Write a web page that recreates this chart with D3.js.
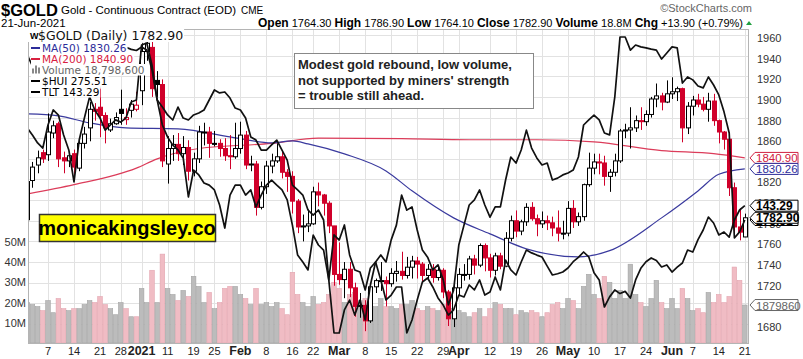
<!DOCTYPE html>
<html><head><meta charset="utf-8">
<script src="https://cdn.jsdelivr.net/npm/d3@7"></script>
<style>body{margin:0;background:#fff}svg{display:block}text{font-family:Arial,"Liberation Sans",sans-serif}</style>
</head><body><svg id="c" width="803" height="359"></svg>
<script>
const dates = [
"2020-12-01","2020-12-02","2020-12-03","2020-12-04","2020-12-07","2020-12-08","2020-12-09","2020-12-10","2020-12-11","2020-12-14","2020-12-15","2020-12-16","2020-12-17","2020-12-18","2020-12-21","2020-12-22","2020-12-23","2020-12-24","2020-12-28","2020-12-29","2020-12-30","2020-12-31",
"2021-01-04","2021-01-05","2021-01-06","2021-01-07","2021-01-08","2021-01-11","2021-01-12","2021-01-13","2021-01-14","2021-01-15","2021-01-19","2021-01-20","2021-01-21","2021-01-22","2021-01-25","2021-01-26","2021-01-27","2021-01-28","2021-01-29",
"2021-02-01","2021-02-02","2021-02-03","2021-02-04","2021-02-05","2021-02-08","2021-02-09","2021-02-10","2021-02-11","2021-02-12","2021-02-16","2021-02-17","2021-02-18","2021-02-19","2021-02-22","2021-02-23","2021-02-24","2021-02-25","2021-02-26",
"2021-03-01","2021-03-02","2021-03-03","2021-03-04","2021-03-05","2021-03-08","2021-03-09","2021-03-10","2021-03-11","2021-03-12","2021-03-15","2021-03-16","2021-03-17","2021-03-18","2021-03-19","2021-03-22","2021-03-23","2021-03-24","2021-03-25","2021-03-26","2021-03-29","2021-03-30","2021-03-31",
"2021-04-01","2021-04-05","2021-04-06","2021-04-07","2021-04-08","2021-04-09","2021-04-12","2021-04-13","2021-04-14","2021-04-15","2021-04-16","2021-04-19","2021-04-20","2021-04-21","2021-04-22","2021-04-23","2021-04-26","2021-04-27","2021-04-28","2021-04-29","2021-04-30",
"2021-05-03","2021-05-04","2021-05-05","2021-05-06","2021-05-07","2021-05-10","2021-05-11","2021-05-12","2021-05-13","2021-05-14","2021-05-17","2021-05-18","2021-05-19","2021-05-20","2021-05-21","2021-05-24","2021-05-25","2021-05-26","2021-05-27","2021-05-28",
"2021-06-01","2021-06-02","2021-06-03","2021-06-04","2021-06-07","2021-06-08","2021-06-09","2021-06-10","2021-06-11","2021-06-14","2021-06-15","2021-06-16","2021-06-17","2021-06-18","2021-06-21"];

const close = [1818,1832,1841,1840,1866,1872,1840,1838,1843,1832,1855,1864,1888,1886,1882,1870,1874,1880,1884,1880,1893,1892,
1944,1952,1908,1912,1838,1850,1854,1845,1851,1828,1840,1866,1866,1855,1855,1850,1843,1842,1850,
1863,1834,1835,1793,1813,1833,1838,1842,1827,1823,1799,1774,1775,1777,1808,1805,1797,1775,1728,
1723,1733,1715,1697,1698,1683,1716,1722,1722,1719,1729,1731,1727,1735,1741,1738,1727,1733,1725,1732,1711,1685,1715,
1728,1728,1743,1737,1756,1744,1732,1746,1736,1763,1780,1770,1779,1793,1782,1777,1780,1778,1773,1768,1768,
1792,1779,1784,1815,1831,1837,1836,1823,1827,1838,1867,1868,1870,1877,1876,1883,1898,1901,1895,1903,
1905,1908,1870,1891,1897,1893,1888,1896,1877,1866,1859,1812,1774,1769,1782.9];
const open = [1781,1819,1834,1846,1844,1865,1874,1841,1838,1845,1831,1855,1870,1888,1890,1882,1868,1874,1888,1878,1887,1888,
1906,1944,1948,1916,1912,1835,1850,1854,1845,1851,1828,1840,1866,1866,1855,1855,1850,1843,1842,
1850,1863,1834,1835,1793,1813,1833,1838,1842,1827,1823,1799,1774,1775,1777,1808,1805,1797,1775,
1728,1723,1733,1715,1697,1698,1683,1716,1722,1722,1719,1729,1731,1727,1735,1741,1738,1727,1733,1725,1732,1711,1685,
1715,1728,1728,1743,1737,1756,1744,1732,1746,1736,1763,1780,1770,1779,1793,1782,1777,1780,1778,1773,1768,
1768,1792,1779,1784,1815,1831,1837,1836,1823,1827,1838,1867,1868,1870,1877,1876,1883,1898,1901,1895,
1903,1905,1908,1870,1891,1897,1893,1888,1896,1877,1866,1859,1812,1774,1764.3];
const high = [1820,1837,1848,1849,1884,1877,1876,1847,1847,1849,1858,1871,1895,1894,1908,1885,1879,1885,1907,1889,1897,1905,
1952,1957,1960,1925,1917,1862,1863,1865,1862,1858,1846,1872,1875,1871,1867,1859,1860,1863,1875,
1876,1867,1843,1838,1818,1838,1845,1855,1848,1830,1828,1801,1786,1791,1813,1817,1806,1799,1775,
1759,1740,1740,1720,1710,1703,1719,1724,1740,1726,1734,1741,1750,1745,1746,1745,1740,1738,1738,1736,1734,1713,1718,
1734,1738,1746,1747,1758,1758,1748,1749,1749,1769,1785,1790,1781,1797,1798,1786,1789,1785,1784,1790,1780,
1799,1800,1788,1816,1846,1845,1845,1843,1830,1845,1869,1874,1890,1882,1890,1887,1900,1913,1904,1916,
1919,1910,1909,1895,1901,1903,1900,1904,1903,1878,1867,1866,1817,1792,1786.9];
const low = [1777,1812,1826,1836,1838,1860,1832,1826,1832,1822,1828,1850,1857,1877,1861,1855,1866,1873,1873,1873,1880,1886,
1892,1935,1900,1900,1832,1816,1838,1838,1834,1819,1823,1836,1853,1841,1852,1842,1838,1830,1840,
1845,1830,1828,1785,1791,1806,1826,1836,1821,1808,1787,1768,1760,1769,1776,1794,1785,1768,1717,
1718,1705,1706,1687,1686,1673,1681,1710,1712,1697,1716,1721,1723,1724,1724,1724,1720,1723,1720,1722,1705,1678,1677,
1707,1722,1723,1728,1735,1731,1725,1727,1733,1735,1760,1764,1766,1775,1780,1765,1773,1771,1765,1760,1762,
1765,1773,1775,1780,1813,1825,1825,1814,1808,1823,1836,1860,1850,1866,1868,1872,1880,1890,1887,1894,
1898,1896,1856,1864,1882,1890,1886,1876,1872,1855,1849,1804,1764,1761,1764.1];
const volume = [20,19,18,16,21,15,22,17,16,17,17,19,21,20,23,19,17,14,20,17,13,13,
27,20,36,20,44,27,24,21,26,23,33,28,20,25,17,20,27,28,28,
24,22,19,27,19,20,18,20,17,14,35,24,20,18,23,19,20,24,30,
27,20,24,25,21,22,25,18,22,18,18,17,19,19,21,17,16,18,17,16,19,24,17,
16,15,13,15,17,13,17,20,19,17,17,14,16,15,16,15,13,15,19,20,17,
22,21,17,28,34,24,22,33,30,22,26,22,39,24,20,18,22,31,20,17,
22,17,27,22,16,17,15,25,20,24,20,23,37.6,31,18.8];
const hui = [304.3,302.1,299.6,298.0,305.2,309.9,308.3,302.1,297.4,287.4,300.5,307.4,314.0,309.9,307.4,303.6,305.2,306.8,306.1,307.4,312.4,313.0,
330.2,330.8,323.9,313.0,305.2,301.4,298.9,297.4,294.9,282.7,291.1,289.6,287.1,286.4,284.9,280.2,273.0,283.3,286.4,
286.4,283.3,284.9,279.6,283.3,286.4,288.0,286.4,284.9,281.8,273.9,264.6,262.4,259.9,270.8,267.7,266.1,256.8,240.2,
240.2,247.4,250.5,245.8,250.5,244.3,255.2,262.4,264.6,262.4,269.3,273.9,283.3,278.6,279.6,272.4,266.1,263.9,259.9,261.5,256.8,249.0,253.6,
267.7,273.9,280.2,281.8,284.9,280.2,276.4,279.6,279.6,288.0,295.2,293.3,297.4,303.6,298.0,294.9,292.7,293.3,288.0,288.6,289.6,
290.2,291.1,295.2,305.2,306.8,308.3,306.8,302.7,302.1,314.0,332.7,332.7,328.6,330.2,329.6,329.3,328.9,328.6,325.8,327.7,
329.6,329.3,318.3,320.2,319.3,317.4,316.8,320.2,317.7,314.6,309.3,302.7,269.9,271.8,275.51];
const tlt = [157.0,156.0,157.0,155.2,156.6,157.7,157.1,157.8,158.1,157.9,157.6,157.4,157.0,156.6,156.9,157.4,156.6,157.2,157.6,157.7,157.5,157.4,
157.72,157.45,155.63,152.9,152.26,151.54,151.08,152.26,151.26,151.08,151.54,151.72,151.99,152.9,153.81,153.54,153.63,153.08,152.17,
151.99,151.26,149.54,149.26,148.35,148.35,148.81,149.26,148.35,147.44,145.17,144.72,144.26,142.9,142.44,142.9,141.99,136.54,140.63,
140.17,141.54,138.81,137.45,137.26,135.63,137.63,138.17,136.54,134.72,135.17,135.9,135.9,131.72,132.9,134.72,136.35,136.72,135.9,134.9,134.26,133.35,133.81,
135.17,134.99,136.08,135.63,136.54,135.17,135.45,136.81,135.63,138.35,137.45,136.99,138.17,139.26,139.0,138.8,138.63,137.8,136.99,137.1,137.26,
137.63,138.2,138.6,139.08,138.63,137.2,136.54,134.08,135.0,135.63,135.3,135.5,134.9,136.54,137.6,138.2,138.54,138.3,137.72,137.9,
137.26,137.7,138.08,139.26,139.08,140.2,141.08,142.26,141.72,140.63,140.9,140.44,141.99,142.9,143.29];

const ma50Dates = ["2020-12-01","2020-12-09","2020-12-17","2020-12-29","2021-01-13","2021-01-29","2021-02-09","2021-02-16","2021-02-19","2021-03-02","2021-03-12","2021-03-19","2021-03-31","2021-04-12","2021-04-21","2021-05-05","2021-05-13","2021-05-27","2021-06-08","2021-06-14","2021-06-21"];
const ma50 = [1883.5,1881.6,1874.8,1870,1869,1860.3,1855.4,1857.4,1854.5,1844.8,1828.3,1809,1782.8,1767.3,1752.8,1745,1751,1782.8,1808.9,1825,1830.26];
const ma200Dates = ["2020-12-01","2020-12-14","2020-12-31","2021-01-07","2021-01-20","2021-02-09","2021-02-23","2021-03-17","2021-04-06","2021-04-23","2021-05-10","2021-05-27","2021-06-11","2021-06-21"];
const ma200 = [1806,1815,1831,1840,1850,1855,1860,1859.5,1858.5,1858.5,1856.5,1848,1845,1840.9];

const priceTicks = [1680,1700,1720,1740,1760,1780,1800,1820,1840,1860,1880,1900,1920,1940,1960];
const volTicks = [10,20,30,40,50];
const volTickLabels = ["10M","20M","30M","40M","50M"];
const xTickDates = ["2020-12-07","2020-12-14","2020-12-21","2020-12-28","2021-01-04","2021-01-11","2021-01-19","2021-01-25","2021-02-01","2021-02-08","2021-02-16","2021-02-22","2021-03-01","2021-03-08","2021-03-15","2021-03-22","2021-03-29","2021-04-01","2021-04-12","2021-04-19","2021-04-26","2021-05-03","2021-05-10","2021-05-17","2021-05-24","2021-06-01","2021-06-07","2021-06-14","2021-06-21"];
const xTickLabels = ["7","14","21","28","2021","11","19","25","Feb","8","16","22","Mar","8","15","22","29","Apr","12","19","26","May","10","17","24","Jun","7","14","21"];
const boldTicks = ["2021","Feb","Mar","Apr","May","Jun"];

const L=28,R=748,T=29,B=343;
const svg = d3.select("#c");
const x = d3.scalePoint().domain(dates).range([27.2,744.8]);
const step = x.step();
const yP = d3.scaleLinear().domain([1680,1960]).range([35+280*1.032,35]);
const yV = d3.scaleLinear().domain([0,50]).range([B,242]);
const yH = d3.scaleLinear().domain([275.51,336.51]).range([220,24.8]);
const yT = d3.scaleLinear().domain([143.29,157.9]).range([205.7,45]);

svg.append("defs").append("clipPath").attr("id","pc").append("rect").attr("x",L).attr("y",T).attr("width",R-L).attr("height",B-T);

// grid
const g = svg.append("g");
g.selectAll("line.h").data(priceTicks).join("line").attr("x1",L).attr("x2",R).attr("y1",d=>Math.round(yP(d))+0.5).attr("y2",d=>Math.round(yP(d))+0.5).attr("stroke","#e2e2e2");
g.selectAll("line.v").data(xTickDates).join("line").attr("y1",T).attr("y2",B).attr("x1",d=>Math.round(x(d))+0.5).attr("x2",d=>Math.round(x(d))+0.5).attr("stroke","#e2e2e2");

const plot = svg.append("g").attr("clip-path","url(#pc)");
// volume
const upDay = i => i===0 ? true : close[i]>=close[i-1];
plot.selectAll("rect.v").data(dates).join("rect")
  .attr("x",d=>x(d)-step/2+0.3).attr("width",step-0.6)
  .attr("y",(d,i)=>yV(volume[i])).attr("height",(d,i)=>B-yV(volume[i]))
  .attr("fill",(d,i)=> upDay(i) ? "#bcbcbc" : "#f0bcc4")
  .attr("stroke",(d,i)=> upDay(i) ? "#a4a4a4" : "#e3a5b0").attr("stroke-width",0.6);

// MAs
const lineFrom = (ds, vs) => d3.line().x((d)=>x(d[0])).y(d=>yP(d[1])).curve(d3.curveMonotoneX)(ds.map((d,i)=>[d,vs[i]]));
plot.append("path").attr("d",lineFrom(ma200Dates,ma200)).attr("fill","none").attr("stroke","#dc3c5a").attr("stroke-width",1.2);
plot.append("path").attr("d",lineFrom(ma50Dates,ma50)).attr("fill","none").attr("stroke","#3a3a9e").attr("stroke-width",1.2);

// candles
const cg = plot.append("g");
dates.forEach((d,i)=>{
  const col = upDay(i) ? "#000" : "#d0002a";
  const hollow = close[i] > open[i];
  const cx = Math.round(x(d))+0.5;
  cg.append("line").attr("x1",cx).attr("x2",cx).attr("y1",yP(high[i])).attr("y2",yP(low[i])).attr("stroke",col).attr("stroke-width",1);
  const y0 = yP(Math.max(open[i],close[i])), y1 = yP(Math.min(open[i],close[i]));
  cg.append("rect").attr("x",cx-2).attr("width",4).attr("y",y0).attr("height",Math.max(1,y1-y0))
    .attr("fill",hollow?"#fff":col).attr("stroke",col).attr("stroke-width",1);
});

// overlays
plot.append("path").attr("d",d3.line().x(d=>x(d)).y((d,i)=>yT(tlt[i]))(dates)).attr("fill","none").attr("stroke","#111").attr("stroke-width",1.7).attr("stroke-linejoin","round");
plot.append("path").attr("d",d3.line().x(d=>x(d)).y((d,i)=>yH(hui[i]))(dates)).attr("fill","none").attr("stroke","#111").attr("stroke-width",1.7).attr("stroke-linejoin","round");

// border
svg.append("rect").attr("x",L+0.5).attr("y",T+0.5).attr("width",R-L).attr("height",B-T).attr("fill","none").attr("stroke","#b4b4b4");

// header
svg.append("text").attr("x",1).attr("y",16).attr("font-size",16.5).attr("font-weight","bold").text("$GOLD");
svg.append("text").attr("x",61).attr("y",14).attr("font-size",11.5).text("Gold - Continuous Contract (EOD)");
svg.append("text").attr("x",241).attr("y",14).attr("font-size",10).text("CME");
svg.append("text").attr("x",1).attr("y",27).attr("font-size",11.5).text("21-Jun-2021");
svg.append("text").attr("x",752).attr("y",12).attr("font-size",11).attr("text-anchor","end").attr("fill","#666").text("\u00A9StockCharts.com");
const ql = svg.append("text").attr("x",743).attr("y",27).attr("text-anchor","end").attr("font-size",11);
[["Open",1],[" 1764.30 ",0],["High",1],[" 1786.90 ",0],["Low",1],[" 1764.10 ",0],["Close",1],[" 1782.90 ",0],["Volume",1],[" 18.8M ",0],["Chg",1],[" +13.90 (+0.79%)",0]]
 .forEach(([t,b])=>ql.append("tspan").attr("font-weight",b?"bold":"normal").attr("font-size",b?12:11).text(t));
svg.append("path").attr("d","M746,25 L752,25 L749,21 Z").attr("fill","#20a040");

// legend (opaque text backgrounds like the source)
const lg = svg.append("g");
function legText(xx, yy, t, size, col){
  const tx = lg.append("text").attr("x",xx).attr("y",yy).attr("font-size",size).attr("fill",col).style("font-family","'DejaVu Sans',Verdana,sans-serif").text(t);
  const w = tx.node().getComputedTextLength();
  lg.insert("rect","text").attr("x",xx-11).attr("y",yy-size+1).attr("width",w+12).attr("height",size+1).attr("fill","#fff");
}
legText(38,40,"$GOLD (Daily) 1782.90",12.5,"#111");
lg.append("text").attr("x",30).attr("y",39).attr("font-size",9).attr("font-weight","bold").text("\u0057");
const legItems = [["MA(50) 1830.26","#2c2c9a",51.5],["MA(200) 1840.90","#d8203f",62.5],["Volume 18,798,600","#666",73.5],["$HUI 275.51","#000",84.5],["TLT 143.29","#000",95.5]];
legItems.forEach(([t,c,yy])=>legText(42,yy,t,10.5,c));
legItems.forEach(([t,c,yy],i)=>{
  if(i!==2) lg.append("line").attr("x1",31).attr("x2",40).attr("y1",yy-3.5).attr("y2",yy-3.5).attr("stroke",c).attr("stroke-width",2);
  else [0,3,6].forEach((o,k)=>lg.append("rect").attr("x",32+o).attr("y",yy-[5,8,6][k]).attr("width",2).attr("height",[5,8,6][k]).attr("fill","#888"));
});

// right axis
svg.selectAll("text.pt").data(priceTicks).join("text").attr("x",757).attr("y",d=>yP(d)+7).attr("font-size",11).attr("fill","#333").text(d=>d);
// left vol axis
svg.selectAll("text.vt").data(volTicks).join("text").attr("x",26).attr("y",d=>yV(d)+4).attr("text-anchor","end").attr("font-size",11).attr("fill","#333").text((d,i)=>volTickLabels[i]);
// x axis
svg.selectAll("text.xt").data(xTickDates).join("text").attr("x",d=>x(d)).attr("y",355).attr("text-anchor","middle")
  .attr("font-size",(d,i)=>boldTicks.includes(xTickLabels[i])?12.5:11).attr("font-weight",(d,i)=>boldTicks.includes(xTickLabels[i])?"bold":"normal")
  .attr("fill","#222").text((d,i)=>xTickLabels[i]);

// value boxes
function vbox(yc, txt, col, bold){
  const x0=750, x1=798;
  svg.append("path").attr("d",`M${x0},${yc} L${x0+5},${yc-5.5} L${x1},${yc-5.5} L${x1},${yc+5.5} L${x0+5},${yc+5.5} Z`).attr("fill","#fff").attr("stroke",col).attr("stroke-width",1);
  svg.append("text").attr("x",x0+6).attr("y",yc+4.5).attr("font-size",bold?12:11.5).attr("font-weight",bold?"bold":"normal").attr("fill",bold?"#000":col).text(txt);
}
vbox(yP(1840.9),"1840.90","#d02040",false);
vbox(yP(1830.26),"1830.26","#2c2c9a",false);
vbox(yH(275.51),"275.51","#000",true);
vbox(yT(143.29),"143.29","#000",true);
vbox(yP(1782.9),"1782.90","#000",true);
vbox(yV(18.7986),"1879860","#666",false);

// annotation
svg.append("rect").attr("x",294.5).attr("y",53.5).attr("width",239).attr("height",55).attr("fill","#fff").attr("stroke","#888");
["Modest gold rebound, low volume,","not supported by miners' strength","= trouble still ahead."].forEach((t,i)=>
  svg.append("text").attr("x",298).attr("y",69+i*15.5).attr("font-size",13).attr("font-weight","bold").attr("fill","#222").text(t));
svg.append("rect").attr("x",39.5).attr("y",214.5).attr("width",176).attr("height",27).attr("fill","#ffff00").attr("stroke","#333").attr("stroke-width",1.5);
svg.append("text").attr("x",127).attr("y",235).attr("text-anchor","middle").attr("font-size",20).attr("font-weight","bold").text("monicakingsley.co");
</script></body></html>
